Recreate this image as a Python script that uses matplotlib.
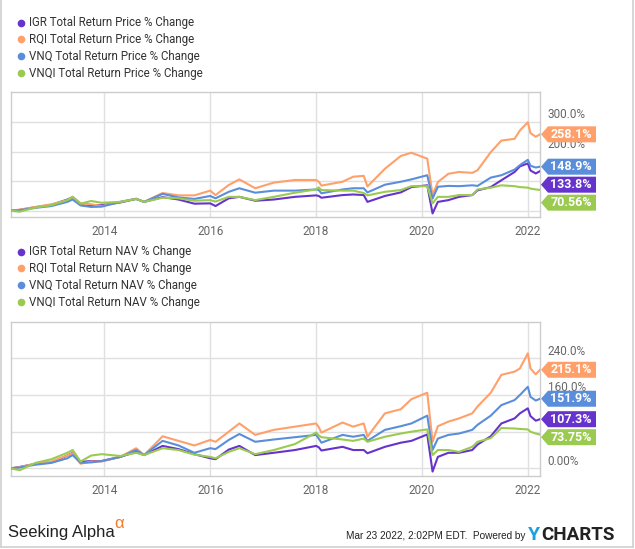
import matplotlib
matplotlib.use("Agg")
import matplotlib.pyplot as plt
from matplotlib.lines import Line2D
from matplotlib.patches import Polygon
from matplotlib.transforms import IdentityTransform, blended_transform_factory

# ---------------- data ----------------
dates = [2012.23, 2012.4, 2012.7, 2013.0, 2013.3, 2013.4, 2013.55, 2013.75, 2013.95, 2014.3,
         2014.6, 2014.75, 2015.1, 2015.4, 2015.7, 2016.0, 2016.1, 2016.35, 2016.55, 2016.85,
         2017.2, 2017.6, 2018.0, 2018.05, 2018.1, 2018.5, 2018.7, 2018.9, 2018.97, 2019.3,
         2019.6, 2019.8, 2020.1, 2020.2, 2020.3, 2020.5, 2020.7, 2020.95, 2021.05, 2021.3,
         2021.5, 2021.75, 2021.85, 2022.0, 2022.05, 2022.15, 2022.23]

tickers = ["IGR", "RQI", "VNQ", "VNQI"]

price_igr = [0, 3, 12, 20, 38, 46, 24, 18, 19, 28,
             40, 30, 46, 38, 24, 25, 16, 42, 47, 34,
             38, 47, 52, 50, 44, 53, 55, 53, 30, 50,
             62, 80, 86, -9, 30, 36, 47, 53, 69, 80,
             103, 131, 150, 160, 136, 126, 133.8]
price_rqi = [0, 4, 13, 22, 36, 47, 24, 22, 16, 30,
             41, 30, 60, 52, 52, 68, 53, 87, 106, 76,
             95, 104, 104, 98, 85, 98, 115, 118, 82, 142,
             185, 196, 176, 53, 97, 125, 131, 128, 137, 198,
             237, 243, 271, 299, 262, 250, 258.1]
price_vnq = [0, 2, 10, 16, 30, 38, 18, 13, 14, 30,
             40, 30, 57, 45, 40, 50, 42, 64, 76, 61,
             68, 68, 72, 70, 59, 72, 76, 76, 62, 88,
             98, 106, 120, 41, 81, 84, 83, 86, 84, 112,
             120, 139, 154, 172, 152, 146, 148.9]
price_vnqi = [0, -3, 11, 19, 36, 47, 24, 33, 27, 30,
              40, 30, 44, 42, 34, 36, 31, 47, 47, 36,
              47, 61, 72, 79, 70, 68, 68, 60, 52, 64,
              70, 83, 83, 25, 47, 47, 53, 53, 72, 78,
              86, 83, 80, 78, 75, 72, 70.56]

nav_igr = [0, 3, 10, 13, 28, 34, 14, 16, 16, 25,
           36, 29, 49, 42, 31, 22, 20, 41, 49, 29,
           34, 40, 49, 46, 39, 47, 40, 40, 33, 47,
           56, 60, 74, -7, 25, 34, 34, 40, 52, 70,
           98, 109, 120, 131, 114, 104, 107.3]
nav_rqi = [0, 3, 10, 15, 28, 33, 10, 15, 15, 25,
           44, 29, 70, 60, 50, 62, 58, 80, 98, 73,
           84, 91, 98, 90, 78, 100, 91, 98, 69, 120,
           129, 151, 165, 58, 92, 102, 109, 120, 135, 165,
           204, 211, 218, 251, 218, 205, 215.1]
nav_vnq = [0, 2, 8, 12, 22, 29, 12, 13, 16, 25,
           40, 29, 60, 50, 34, 44, 42, 62, 75, 58,
           63, 68, 73, 65, 56, 73, 69, 73, 60, 84,
           92, 98, 115, 40, 65, 73, 76, 84, 95, 115,
           138, 149, 160, 178, 156, 148, 151.9]
nav_vnqi = [0, -4, 12, 20, 34, 40, 15, 28, 31, 27,
            34, 29, 44, 40, 30, 25, 22, 36, 44, 31,
            40, 53, 78, 72, 68, 63, 60, 65, 58, 69,
            76, 80, 85, 29, 40, 40, 36, 47, 58, 66,
            88, 87, 86, 85, 80, 76, 73.75]

price_labels = ["133.8%", "258.1%", "148.9%", "70.56%"]
nav_labels = ["107.3%", "215.1%", "151.9%", "73.75%"]

year_ticks = [2014, 2016, 2018, 2020, 2022]
price_grid = [0, 100, 200, 300]
price_ytick_vals = [200, 300]
price_ytick_labels = ["200.0%", "300.0%"]
nav_grid = [0, 80, 160, 240]
nav_ytick_vals = [0, 160, 240]
nav_ytick_labels = ["0.00%", "160.0%", "240.0%"]

colors = ["#6633cc", "#ffa06a", "#5a8edb", "#9acb50"]

# ---------------- figure ----------------
W, H = 635, 549
fig = plt.figure(figsize=(W / 100, H / 100), dpi=100)
fig.patch.set_facecolor("white")

FONT = ["Roboto", "DejaVu Sans"]


def px(x, y):
    """pixel (top-left origin) -> figure fraction"""
    return x / W, 1 - y / H


def make_axes(top, bottom):
    left, right = 10.7, 540
    return fig.add_axes([left / W, 1 - bottom / H, (right - left) / W, (bottom - top) / H])


def draw_panel(ax, series, grid, yt_vals, yt_labels, ylim, flag_labels):
    ax.set_xlim(2012.23, 2022.23)
    ax.set_ylim(*ylim)
    for yv in grid:
        ax.axhline(yv, color="#e0e0e0", lw=1.0, zorder=0)
    for xv in year_ticks:
        ax.axvline(xv, color="#e0e0e0", lw=1.0, zorder=0)
    ax.set_xticks(year_ticks)
    ax.set_xticklabels([str(y) for y in year_ticks], fontfamily=FONT, fontsize=8.5, color="#666666")
    ax.tick_params(axis="x", length=0, pad=6)
    ax.set_yticks([])
    for s in ax.spines.values():
        s.set_color("#cccccc")
        s.set_linewidth(1.0)
    for vals, c in zip(series, colors):
        ax.plot(dates, vals, color=c, lw=1.5, zorder=3, solid_joinstyle="round")
    tr = blended_transform_factory(ax.transAxes, ax.transData)
    for yv, lab in zip(yt_vals, yt_labels):
        ax.annotate(lab, xy=(1, yv), xycoords=tr, xytext=(5.6, 5.2), textcoords="offset points",
                    va="center", ha="left", fontsize=8.5, color="#666666", fontfamily=FONT,
                    annotation_clip=False, zorder=1)
    items = []
    for vals, c, lab in zip(series, colors, flag_labels):
        ydisp = ax.transData.transform((2022.23, vals[-1]))[1]
        items.append([H - ydisp, c, lab])
    items.sort(key=lambda t: t[0])
    for i in range(1, len(items)):
        if items[i][0] < items[i - 1][0] + 18:
            items[i][0] = items[i - 1][0] + 18
    for yc, c, lab in items:
        pts = [(541, yc), (548, yc - 8), (596, yc - 8), (596, yc + 8), (548, yc + 8)]
        pts = [(x, H - y) for x, y in pts]
        fig.add_artist(Polygon(pts, closed=True, facecolor=c, edgecolor="none",
                               transform=IdentityTransform(), zorder=10))
        fx, fy = px(571, yc)
        fig.text(fx, fy, lab, ha="center", va="center", color="white", fontsize=9,
                 fontweight="bold", fontfamily=FONT, zorder=11)


def legend(y0, kind):
    for i, (t, c) in enumerate(zip(tickers, colors)):
        y = y0 + i * 16.9
        fx, fy = px(20.7, y)
        fig.add_artist(Line2D([fx], [fy], marker="o", ms=5.5, color=c, mec="none",
                              transform=fig.transFigure))
        tx, ty = px(29.3, y)
        fig.text(tx, ty, f"{t} Total Return {kind} % Change", ha="left", va="center",
                 fontsize=8.3, color="#333333", fontfamily=FONT)


ax1 = make_axes(92.3, 216.7)
draw_panel(ax1, [price_igr, price_rqi, price_vnq, price_vnqi], price_grid,
           price_ytick_vals, price_ytick_labels, (-20, 400), price_labels)
legend(22.5, "Price")

ax2 = make_axes(321.7, 475.7)
draw_panel(ax2, [nav_igr, nav_rqi, nav_vnq, nav_vnqi], nav_grid,
           nav_ytick_vals, nav_ytick_labels, (-16, 320), nav_labels)
legend(251.5, "NAV")

# ---------------- footer ----------------
NARROW = ["Liberation Sans Narrow", "Liberation Sans", "DejaVu Sans"]
fx, fy = px(8, 532)
fig.text(fx, fy, "Seeking Alpha", ha="left", va="center", fontsize=12, color="#222222",
         fontfamily=NARROW)
fx, fy = px(114, 523)
fig.text(fx, fy, "α", ha="left", va="center", fontsize=12, color="#f47b20", fontfamily=NARROW)
fx, fy = px(525, 536)
fig.text(fx, fy, "Mar 23 2022, 2:02PM EDT.  Powered by", ha="right", va="center",
         fontsize=7.2, color="#222222", fontfamily=NARROW)
fx, fy = px(528, 535)
fig.text(fx, fy, "Y", ha="left", va="center", fontsize=14, color="#1a9fe0",
         fontweight="bold", fontfamily=["Roboto", "DejaVu Sans"])
fx, fy = px(541, 535)
fig.text(fx, fy, "CHARTS", ha="left", va="center", fontsize=13.5, color="#222222",
         fontweight="bold", fontfamily=["Roboto", "DejaVu Sans"])

# outer frame (left, right, bottom)
for xs, ys in [([1, 1], [0, 547]), ([633, 633], [0, 547]), ([1, 633], [547, 547])]:
    fig.add_artist(Line2D([x / W for x in xs], [1 - y / H for y in ys], color="#d0d0d0",
                          lw=1.2, transform=fig.transFigure))

fig.savefig("out.png", dpi=100, facecolor="white")
